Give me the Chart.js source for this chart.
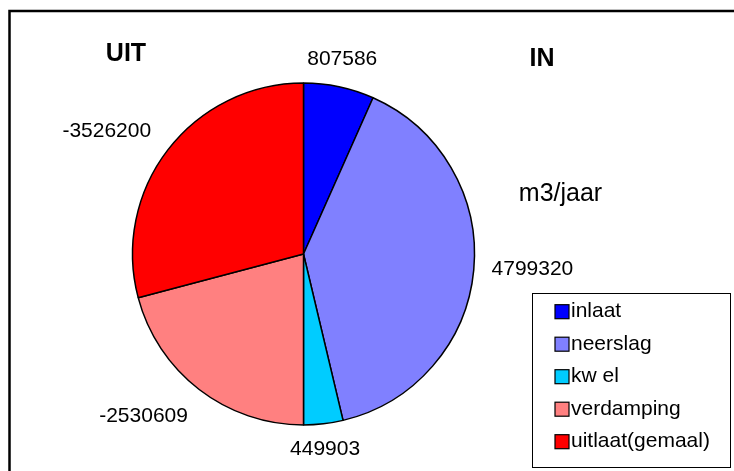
<!DOCTYPE html>
<html>
<head>
<meta charset="utf-8">
<script src="https://cdn.jsdelivr.net/npm/chart.js@4/dist/chart.umd.min.js"></script>
<style>
  html, body { margin: 0; padding: 0; background: #fff; overflow: hidden; }
  canvas { display: block; }
</style>
</head>
<body>
<canvas id="waterbalans" width="734" height="471"></canvas>
<script>
// Water balance per year: inflows (positive) and outflows (negative)
const categories = ['inlaat', 'neerslag', 'kw el', 'verdamping', 'uitlaat(gemaal)'];
const flowValues = [807586, 4799320, 449903, -2530609, -3526200];
const sideTitles = ['UIT', 'IN'];
const unitLabel = 'm3/jaar';

// Styling
const sliceColors = ['#0000FF', '#8080FF', '#00CCFF', '#FF8080', '#FF0000'];
const FONT = '"Liberation Sans", Arial, Helvetica, sans-serif';
// small per-label adjustments of the value labels around the pie (px)
const labelNudge = [[-7, -8], [4, -4], [-4, 2], [-20, 8], [-15, -7]];

const overlay = {
  id: 'overlay',
  beforeDraw(chart) {
    const ctx = chart.ctx;
    ctx.save();
    ctx.fillStyle = '#fff';
    ctx.fillRect(0, 0, chart.width, chart.height);
    // frame around the chart
    ctx.strokeStyle = '#000';
    ctx.lineWidth = 2.5;
    ctx.beginPath();
    ctx.moveTo(9.5, chart.height + 5);
    ctx.lineTo(9.5, 11);
    ctx.lineTo(chart.width + 5, 11);
    ctx.stroke();
    ctx.restore();
  },
  afterDatasetsDraw(chart) {
    const ctx = chart.ctx;
    const meta = chart.getDatasetMeta(0);
    ctx.save();
    ctx.fillStyle = '#000';
    ctx.textAlign = 'center';
    ctx.textBaseline = 'alphabetic';

    // value labels outside each slice
    ctx.font = '21px ' + FONT;
    meta.data.forEach((arc, i) => {
      const mid = (arc.startAngle + arc.endAngle) / 2;
      const ux = Math.cos(mid), uy = Math.sin(mid);
      const text = String(flowValues[i]);
      const w = ctx.measureText(text).width;
      const capH = 15;
      const R = arc.outerRadius + 14;
      const cx = arc.x + R * ux + (w / 2) * ux + labelNudge[i][0];
      const cy = arc.y + R * uy + (capH / 2) * uy + labelNudge[i][1];
      ctx.fillText(text, cx, cy + capH / 2);
    });

    // side titles and unit
    ctx.font = 'bold 25px ' + FONT;
    ctx.fillText(sideTitles[0], 126, 61);
    ctx.fillText(sideTitles[1], 542, 65.5);
    ctx.font = '25px ' + FONT;
    ctx.fillText(unitLabel, 560.5, 201);

    // legend
    ctx.lineWidth = 1;
    ctx.strokeStyle = '#000';
    ctx.strokeRect(532.5, 293.5, 198, 174);
    ctx.font = '21px ' + FONT;
    ctx.textAlign = 'left';
    categories.forEach((name, i) => {
      const yc = 311.7 + i * 32.5;
      ctx.fillStyle = sliceColors[i];
      ctx.fillRect(555, yc - 7, 14, 14);
      ctx.strokeStyle = '#000';
      ctx.lineWidth = 1.2;
      ctx.strokeRect(555, yc - 7, 14, 14);
      ctx.fillStyle = '#000';
      ctx.fillText(name, 571, yc + 5.5);
    });
    ctx.restore();
  }
};

new Chart(document.getElementById('waterbalans'), {
  type: 'pie',
  data: {
    labels: categories,
    datasets: [{
      data: flowValues.map(v => Math.abs(v)),
      backgroundColor: sliceColors,
      borderColor: '#000',
      borderWidth: 1.5,
      radius: 171
    }]
  },
  options: {
    responsive: false,
    animation: false,
    events: [],
    layout: { padding: { left: 132, right: 259, top: 83, bottom: 46 } },
    plugins: {
      legend: { display: false },
      tooltip: { enabled: false },
      title: { display: false }
    }
  },
  plugins: [overlay]
});
</script>
</body>
</html>
